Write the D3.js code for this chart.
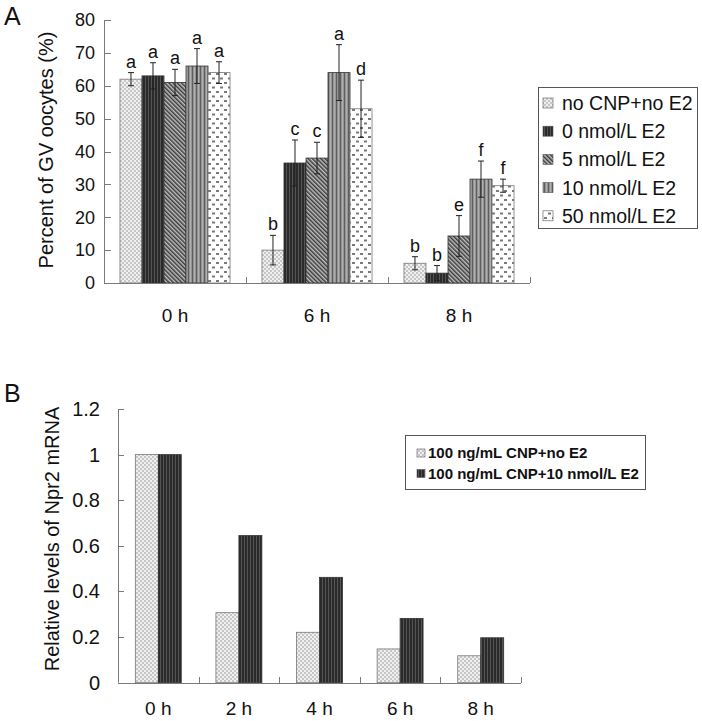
<!DOCTYPE html>
<html><head><meta charset="utf-8">
<script src="https://cdn.jsdelivr.net/npm/d3@7"></script>
<style>body{margin:0;background:#fff}svg{display:block;font-family:Arial,"Liberation Sans",sans-serif}</style>
</head><body>
<script>
// ---------- Data ----------
const catsA = ["0 h", "6 h", "8 h"];
const seriesA = ["no CNP+no E2", "0 nmol/L E2", "5 nmol/L E2", "10 nmol/L E2", "50 nmol/L E2"];
const valuesA = [
  [62, 10, 6],      // no CNP+no E2
  [63, 36.5, 3],    // 0 nmol/L E2
  [61, 38, 14.3],   // 5 nmol/L E2
  [66, 64, 31.6],   // 10 nmol/L E2
  [64, 53, 29.6]    // 50 nmol/L E2
];
const errorsA = [
  [2, 4.5, 2],
  [4, 7, 2.3],
  [4, 4.8, 6.2],
  [5.3, 8.5, 5.5],
  [3.3, 8.7, 2]
];
const lettersA = [
  ["a", "b", "b"],
  ["a", "c", "b"],
  ["a", "c", "e"],
  ["a", "a", "f"],
  ["a", "d", "f"]
];
const ticksA = [0, 10, 20, 30, 40, 50, 60, 70, 80];

const catsB = ["0 h", "2 h", "4 h", "6 h", "8 h"];
const seriesB = ["100 ng/mL CNP+no E2", "100 ng/mL CNP+10 nmol/L E2"];
const valuesB = [
  [1, 0.307, 0.221, 0.148, 0.118],
  [1, 0.645, 0.462, 0.282, 0.197]
];
const ticksB = [0, 0.2, 0.4, 0.6, 0.8, 1, 1.2];

// ---------- SVG ----------
const W = 702, H = 721;
const svg = d3.select("body").append("svg").attr("width", W).attr("height", H);
const defs = svg.append("defs");

function pat(id, w, h) {
  return defs.append("pattern").attr("id", id).attr("patternUnits", "userSpaceOnUse")
    .attr("width", w).attr("height", h);
}
let p = pat("pLight", 4, 4);
p.append("rect").attr("width", 4).attr("height", 4).attr("fill", "#f0f0f0");
p.append("rect").attr("width", 2).attr("height", 2).attr("fill", "#c6c6c6");
p.append("rect").attr("x", 2).attr("y", 2).attr("width", 2).attr("height", 2).attr("fill", "#c6c6c6");

p = pat("pDark", 3, 3);
p.append("rect").attr("width", 3).attr("height", 3).attr("fill", "#2a2a2a");
p.append("rect").attr("x", 1).attr("width", 1).attr("height", 3).attr("fill", "#555");

p = pat("pHatch", 3, 3).attr("patternTransform", "rotate(-45)");
p.append("rect").attr("width", 3).attr("height", 3).attr("fill", "#c0c0c0");
p.append("rect").attr("width", 1.5).attr("height", 3).attr("fill", "#3a3a3a");

p = pat("pVert", 4, 4);
p.append("rect").attr("width", 4).attr("height", 4).attr("fill", "#949494");
p.append("rect").attr("x", 0).attr("width", 1).attr("height", 4).attr("fill", "#5e5e5e");
p.append("rect").attr("x", 2).attr("width", 1).attr("height", 4).attr("fill", "#b0b0b0");

p = pat("pDots", 8, 9);
p.append("rect").attr("width", 8).attr("height", 9).attr("fill", "#ffffff");
p.append("rect").attr("x", 0).attr("y", 1).attr("width", 3).attr("height", 2).attr("fill", "#7a7a7a");
p.append("rect").attr("x", 4).attr("y", 5.5).attr("width", 3).attr("height", 2).attr("fill", "#7a7a7a");

const fillsA = ["url(#pLight)", "url(#pDark)", "url(#pHatch)", "url(#pVert)", "url(#pDots)"];
const fillsB = ["url(#pLight)", "url(#pDark)"];
const axisColor = "#7a7a7a";

// ---------- Panel A ----------
const xA = d3.scaleBand().domain(catsA).range([104, 530]).paddingInner(0.225).paddingOuter(0.1125);
const xAi = d3.scaleBand().domain(d3.range(seriesA.length)).range([0, xA.bandwidth()]);
const yA = d3.scaleLinear().domain([0, 80]).range([283, 20]);

const gA = svg.append("g");
seriesA.forEach((s, si) => {
  catsA.forEach((c, ci) => {
    const v = valuesA[si][ci];
    gA.append("rect")
      .attr("x", xA(c) + xAi(si)).attr("y", yA(v))
      .attr("width", xAi.bandwidth()).attr("height", yA(0) - yA(v))
      .attr("fill", fillsA[si]).attr("stroke", si === 0 || si === 4 ? "#777" : "#333").attr("stroke-width", 0.8);
  });
});
seriesA.forEach((s, si) => {
  catsA.forEach((c, ci) => {
    const v = valuesA[si][ci], e = errorsA[si][ci];
    const cx = xA(c) + xAi(si) + xAi.bandwidth() / 2;
    const eb = gA.append("g").attr("stroke", "#222").attr("stroke-width", 1);
    eb.append("line").attr("x1", cx).attr("x2", cx).attr("y1", yA(v + e)).attr("y2", yA(Math.max(0, v - e)));
    eb.append("line").attr("x1", cx - 3).attr("x2", cx + 3).attr("y1", yA(v + e)).attr("y2", yA(v + e));
    eb.append("line").attr("x1", cx - 3).attr("x2", cx + 3).attr("y1", yA(Math.max(0, v - e))).attr("y2", yA(Math.max(0, v - e)));
    gA.append("text").attr("x", cx).attr("y", yA(v + e) - 5)
      .attr("text-anchor", "middle").attr("font-size", 18).attr("fill", "#111")
      .text(lettersA[si][ci]);
  });
});

const axA = svg.append("g").attr("stroke", axisColor).attr("stroke-width", 1).attr("fill", "none");
axA.append("line").attr("x1", 104.5).attr("x2", 104.5).attr("y1", yA(80)).attr("y2", yA(0));
axA.append("line").attr("x1", 104).attr("x2", 530).attr("y1", yA(0) + 0.5).attr("y2", yA(0) + 0.5);
ticksA.forEach(t => {
  axA.append("line").attr("x1", 104).attr("x2", 111).attr("y1", Math.round(yA(t)) + 0.5).attr("y2", Math.round(yA(t)) + 0.5);
  svg.append("text").attr("x", 95).attr("y", yA(t)).attr("dy", "0.35em")
    .attr("text-anchor", "end").attr("font-size", 18).attr("fill", "#111").text(t);
});
catsA.forEach((c, i) => {
  const xe = xA(c) - xA.step() * xA.paddingOuter() + xA.step();
  axA.append("line").attr("x1", Math.round(xe) + 0.5).attr("x2", Math.round(xe) + 0.5).attr("y1", yA(0)).attr("y2", yA(0) - 6);
  svg.append("text").attr("x", xA(c) + xA.bandwidth() / 2).attr("y", 322)
    .attr("text-anchor", "middle").attr("font-size", 19).attr("fill", "#111").text(c);
});
svg.append("text").attr("transform", "translate(53,150) rotate(-90)")
  .attr("text-anchor", "middle").attr("font-size", 20).attr("fill", "#111").text("Percent of GV oocytes (%)");
svg.append("text").attr("x", 4).attr("y", 25).attr("font-size", 25).attr("fill", "#111").text("A");

const lgA = svg.append("g");
lgA.append("rect").attr("x", 538.5).attr("y", 87.5).attr("width", 159).attr("height", 141)
  .attr("fill", "#fff").attr("stroke", "#555");
seriesA.forEach((s, i) => {
  const cy = 103 + i * 28.2;
  lgA.append("rect").attr("x", 543).attr("y", cy - 5).attr("width", 10).attr("height", 10)
    .attr("fill", fillsA[i]).attr("stroke", "#555").attr("stroke-width", 0.6);
  lgA.append("text").attr("x", 562).attr("y", cy).attr("dy", "0.36em")
    .attr("font-size", 19.5).attr("fill", "#111").text(s);
});

// ---------- Panel B ----------
const xB = d3.scaleBand().domain(catsB).range([118, 521]).paddingInner(0.43).paddingOuter(0.215);
const xBi = d3.scaleBand().domain(d3.range(seriesB.length)).range([0, xB.bandwidth()]);
const yB = d3.scaleLinear().domain([0, 1.2]).range([682.7, 409]);

seriesB.forEach((s, si) => {
  catsB.forEach((c, ci) => {
    const v = valuesB[si][ci];
    svg.append("rect")
      .attr("x", xB(c) + xBi(si)).attr("y", yB(v))
      .attr("width", xBi.bandwidth()).attr("height", yB(0) - yB(v))
      .attr("fill", fillsB[si]).attr("stroke", si === 0 ? "#777" : "#333").attr("stroke-width", 0.8);
  });
});
const axB = svg.append("g").attr("stroke", axisColor).attr("stroke-width", 1).attr("fill", "none");
axB.append("line").attr("x1", 118.5).attr("x2", 118.5).attr("y1", yB(1.2)).attr("y2", yB(0));
axB.append("line").attr("x1", 118).attr("x2", 521).attr("y1", Math.round(yB(0)) + 0.5).attr("y2", Math.round(yB(0)) + 0.5);
ticksB.forEach(t => {
  axB.append("line").attr("x1", 118).attr("x2", 124).attr("y1", Math.round(yB(t)) + 0.5).attr("y2", Math.round(yB(t)) + 0.5);
  svg.append("text").attr("x", 100).attr("y", yB(t)).attr("dy", "0.35em")
    .attr("text-anchor", "end").attr("font-size", 20).attr("fill", "#111").text(t);
});
catsB.forEach((c, i) => {
  const xe = xB(c) - xB.step() * xB.paddingOuter() + xB.step();
  axB.append("line").attr("x1", Math.round(xe) + 0.5).attr("x2", Math.round(xe) + 0.5).attr("y1", Math.round(yB(0))).attr("y2", Math.round(yB(0)) - 6);
  svg.append("text").attr("x", xB(c) + xB.bandwidth() / 2).attr("y", 715)
    .attr("text-anchor", "middle").attr("font-size", 19).attr("fill", "#111").text(c);
});
svg.append("text").attr("transform", "translate(59,539) rotate(-90)")
  .attr("text-anchor", "middle").attr("font-size", 20).attr("fill", "#111").text("Relative levels of Npr2 mRNA");
svg.append("text").attr("x", 4).attr("y", 402).attr("font-size", 25).attr("fill", "#111").text("B");

const lgB = svg.append("g");
lgB.append("rect").attr("x", 405.5).attr("y", 435.5).attr("width", 240).attr("height", 54)
  .attr("fill", "#fff").attr("stroke", "#555");
seriesB.forEach((s, i) => {
  const cy = 453 + i * 20.5;
  lgB.append("rect").attr("x", 417).attr("y", cy - 4).attr("width", 8).attr("height", 8)
    .attr("fill", fillsB[i]).attr("stroke", "#555").attr("stroke-width", 0.6);
  lgB.append("text").attr("x", 428).attr("y", cy).attr("dy", "0.36em")
    .attr("font-size", 15).attr("font-weight", "bold").attr("fill", "#111").text(s);
});
</script>
</body></html>
